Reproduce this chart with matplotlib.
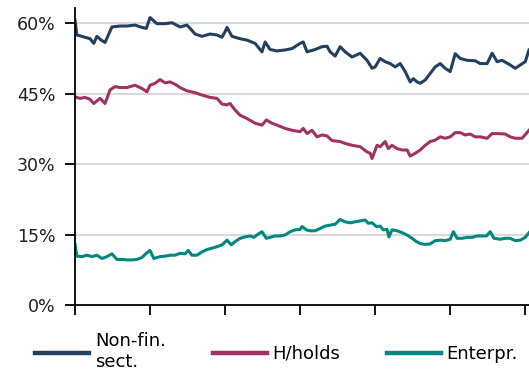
import matplotlib
matplotlib.use("Agg")
import matplotlib.pyplot as plt
from matplotlib.ticker import FuncFormatter

# months since start of the sample
nonfin_t = [0, 0.3, 1.1, 2.4, 3.0, 3.5, 4.2, 4.8, 5.9, 7.2, 8.3, 9.6, 10.7, 11.4, 12.0,
            13.1, 14.4, 15.5, 16.8, 17.9, 18.4, 19.2, 20.3, 21.6, 22.7, 23.5, 24.0, 24.3,
            25.1, 26.4, 27.5, 28.8, 29.9, 30.4, 31.2, 32.3, 33.6, 34.7, 36.0, 36.5, 37.1,
            38.4, 39.5, 40.3, 40.8, 41.6, 42.4, 43.2, 44.3, 45.6, 46.7, 47.5, 48.0, 48.8,
            49.6, 50.4, 51.2, 52.0, 52.8, 53.6, 54.1, 54.7, 55.2, 56.0, 56.8, 57.6, 58.4,
            59.2, 60.0, 60.8, 61.6, 62.7, 64.0, 64.8, 65.9, 66.7, 67.5, 68.3, 69.6, 70.4,
            71.2, 72.0, 72.6]
nonfin = [60.6, 57.5, 57.2, 56.7, 55.7, 57.2, 56.4, 55.9, 59.2, 59.4, 59.4, 59.6, 59.1, 58.9,
          61.2, 59.9, 59.9, 60.1, 59.2, 59.6, 58.9, 57.7, 57.2, 57.7, 57.5, 57.0, 58.2, 59.1,
          57.2, 56.7, 56.4, 55.7, 53.9, 56.0, 54.4, 54.1, 54.3, 54.6, 55.7, 56.0, 53.9, 54.4,
          55.0, 55.1, 53.9, 53.0, 55.0, 53.9, 52.8, 53.6, 52.1, 50.4, 50.7, 52.5, 51.8, 51.4,
          50.7, 51.4, 49.7, 47.5, 48.2, 47.5, 47.2, 47.9, 49.3, 50.7, 51.4, 50.4, 49.7, 53.5,
          52.5, 52.1, 52.0, 51.4, 51.4, 53.6, 51.8, 52.1, 51.1, 50.4, 51.1, 51.8, 54.3]

hh_t = [0, 0.8, 1.6, 2.4, 3.0, 4.0, 4.8, 5.6, 6.4, 7.2, 8.3, 9.6, 10.7, 11.5, 12.0, 12.8,
        13.6, 14.4, 15.2, 16.0, 16.8, 17.9, 19.2, 20.3, 21.6, 22.7, 23.5, 24.2, 24.8, 25.6,
        26.4, 27.5, 28.8, 29.9, 30.6, 31.5, 32.3, 33.6, 34.7, 36.0, 36.5, 37.1, 37.9, 38.7,
        39.5, 40.3, 41.1, 42.4, 43.2, 44.3, 45.6, 46.7, 47.2, 47.5, 48.3, 48.8, 49.6, 50.1,
        50.7, 51.5, 52.3, 53.1, 53.6, 54.4, 55.2, 56.0, 56.8, 57.6, 58.4, 59.2, 60.0, 60.8,
        61.6, 62.4, 63.2, 64.0, 64.8, 65.9, 66.7, 67.5, 68.8, 69.6, 70.4, 71.5, 72.6]
hh = [44.3, 44.0, 44.2, 43.8, 42.9, 44.0, 42.9, 45.8, 46.5, 46.3, 46.3, 46.8, 46.1, 45.4,
      46.8, 47.2, 48.0, 47.3, 47.5, 47.0, 46.3, 45.6, 45.2, 44.7, 44.2, 44.0, 42.8, 42.6,
      42.9, 41.5, 40.4, 39.7, 38.7, 38.3, 39.4, 38.7, 38.3, 37.6, 37.2, 36.9, 37.6, 36.5,
      37.2, 35.8, 36.2, 36.0, 35.0, 34.8, 34.4, 34.0, 33.7, 32.6, 32.3, 31.2, 34.0, 33.7,
      34.8, 33.3, 34.0, 33.3, 33.0, 33.0, 31.7, 32.3, 33.0, 34.0, 34.8, 35.1, 35.8, 35.5,
      35.8, 36.7, 36.7, 36.2, 36.4, 35.8, 35.8, 35.5, 36.5, 36.5, 36.4, 35.8, 35.5, 35.5,
      37.2]

ent_t = [0, 0.3, 1.1, 1.9, 2.7, 3.5, 4.3, 5.1, 5.9, 6.7, 7.5, 8.3, 9.1, 9.9, 10.7, 11.4,
         12.0, 12.6, 13.6, 14.4, 15.2, 16.0, 16.8, 17.6, 18.1, 18.7, 19.5, 20.3, 21.1, 21.9,
         22.7, 23.5, 24.3, 25.0, 25.6, 26.4, 27.2, 28.0, 28.6, 29.3, 29.9, 30.6, 31.2, 32.0,
         32.8, 33.6, 34.4, 35.2, 36.0, 36.3, 37.0, 37.6, 38.4, 39.2, 40.0, 40.8, 41.6, 42.4,
         43.2, 44.0, 44.8, 45.6, 46.4, 46.9, 47.5, 48.2, 48.8, 49.3, 49.9, 50.2, 50.7, 51.5,
         52.3, 53.1, 53.9, 54.6, 55.2, 56.0, 56.8, 57.6, 58.4, 59.2, 60.0, 60.5, 61.1, 61.9,
         62.7, 63.5, 64.3, 65.1, 65.8, 66.4, 67.0, 68.0, 68.8, 69.6, 70.4, 71.2, 72.0, 72.6]
ent = [12.9, 10.4, 10.3, 10.6, 10.3, 10.6, 9.9, 10.3, 10.9, 9.7, 9.7, 9.6, 9.6, 9.7, 10.1,
       11.0, 11.6, 9.9, 10.3, 10.4, 10.6, 10.6, 11.0, 10.9, 11.6, 10.6, 10.6, 11.3, 11.8,
       12.1, 12.4, 12.8, 13.8, 12.8, 13.5, 14.2, 14.5, 14.7, 14.4, 15.1, 15.6, 14.2, 14.4,
       14.7, 14.7, 14.9, 15.6, 16.0, 16.1, 16.7, 16.0, 15.8, 15.8, 16.3, 16.8, 17.0, 17.2,
       18.2, 17.7, 17.5, 17.7, 17.9, 18.1, 17.4, 17.5, 16.7, 16.8, 16.0, 16.1, 14.5, 16.0,
       15.8, 15.4, 14.9, 14.2, 13.5, 13.1, 12.9, 13.0, 13.7, 13.8, 13.7, 14.0, 15.6, 14.2,
       14.2, 14.4, 14.4, 14.7, 14.7, 14.7, 15.6, 14.2, 14.0, 14.2, 14.2, 13.7, 13.8, 14.4,
       15.4]

labels = ["Non-fin.\nsect.", "H/holds", "Enterpr."]
colors = ["#24405F", "#A03362", "#00877F"]
y_ticks = [0, 15, 30, 45, 60]
x_ticks = [0, 12, 24, 36, 48, 60, 72]

fig = plt.figure(figsize=(5.29, 3.82), dpi=100)
ax = fig.add_axes([0.1418, 0.2016, 0.8582, 0.777])

ax.plot(nonfin_t, nonfin, color=colors[0], lw=2.2, label=labels[0], solid_joinstyle="round")
ax.plot(hh_t, hh, color=colors[1], lw=2.2, label=labels[1], solid_joinstyle="round")
ax.plot(ent_t, ent, color=colors[2], lw=2.2, label=labels[2], solid_joinstyle="round")

ax.set_xlim(0, 72.6)
ax.set_ylim(0, 63.2)
ax.set_yticks(y_ticks)
ax.yaxis.set_major_formatter(FuncFormatter(lambda v, p: f"{v:.0f}%"))
ax.set_xticks(x_ticks)
ax.set_xticklabels([])

for g in y_ticks[1:]:
    ax.axhline(g, color="#D9D9D9", lw=1.5, zorder=0)

for s in ["top", "right"]:
    ax.spines[s].set_visible(False)
for s in ["left", "bottom"]:
    ax.spines[s].set_color("black")
    ax.spines[s].set_linewidth(1.3)

ax.tick_params(axis="y", direction="out", length=7, width=1.3, labelsize=12.5,
               labelcolor="#1E1E2A", pad=7)
ax.tick_params(axis="x", direction="out", length=7, width=1.3)

fig.legend(loc="center", bbox_to_anchor=(0.523, 0.079), ncol=3, frameon=False,
           fontsize=13, handlelength=3.0, handletextpad=0.3, columnspacing=2.6,
           borderpad=0, labelspacing=0.2)
for line in fig.legends[0].get_lines():
    line.set_linewidth(3.2)

fig.savefig("out.png", dpi=100)
